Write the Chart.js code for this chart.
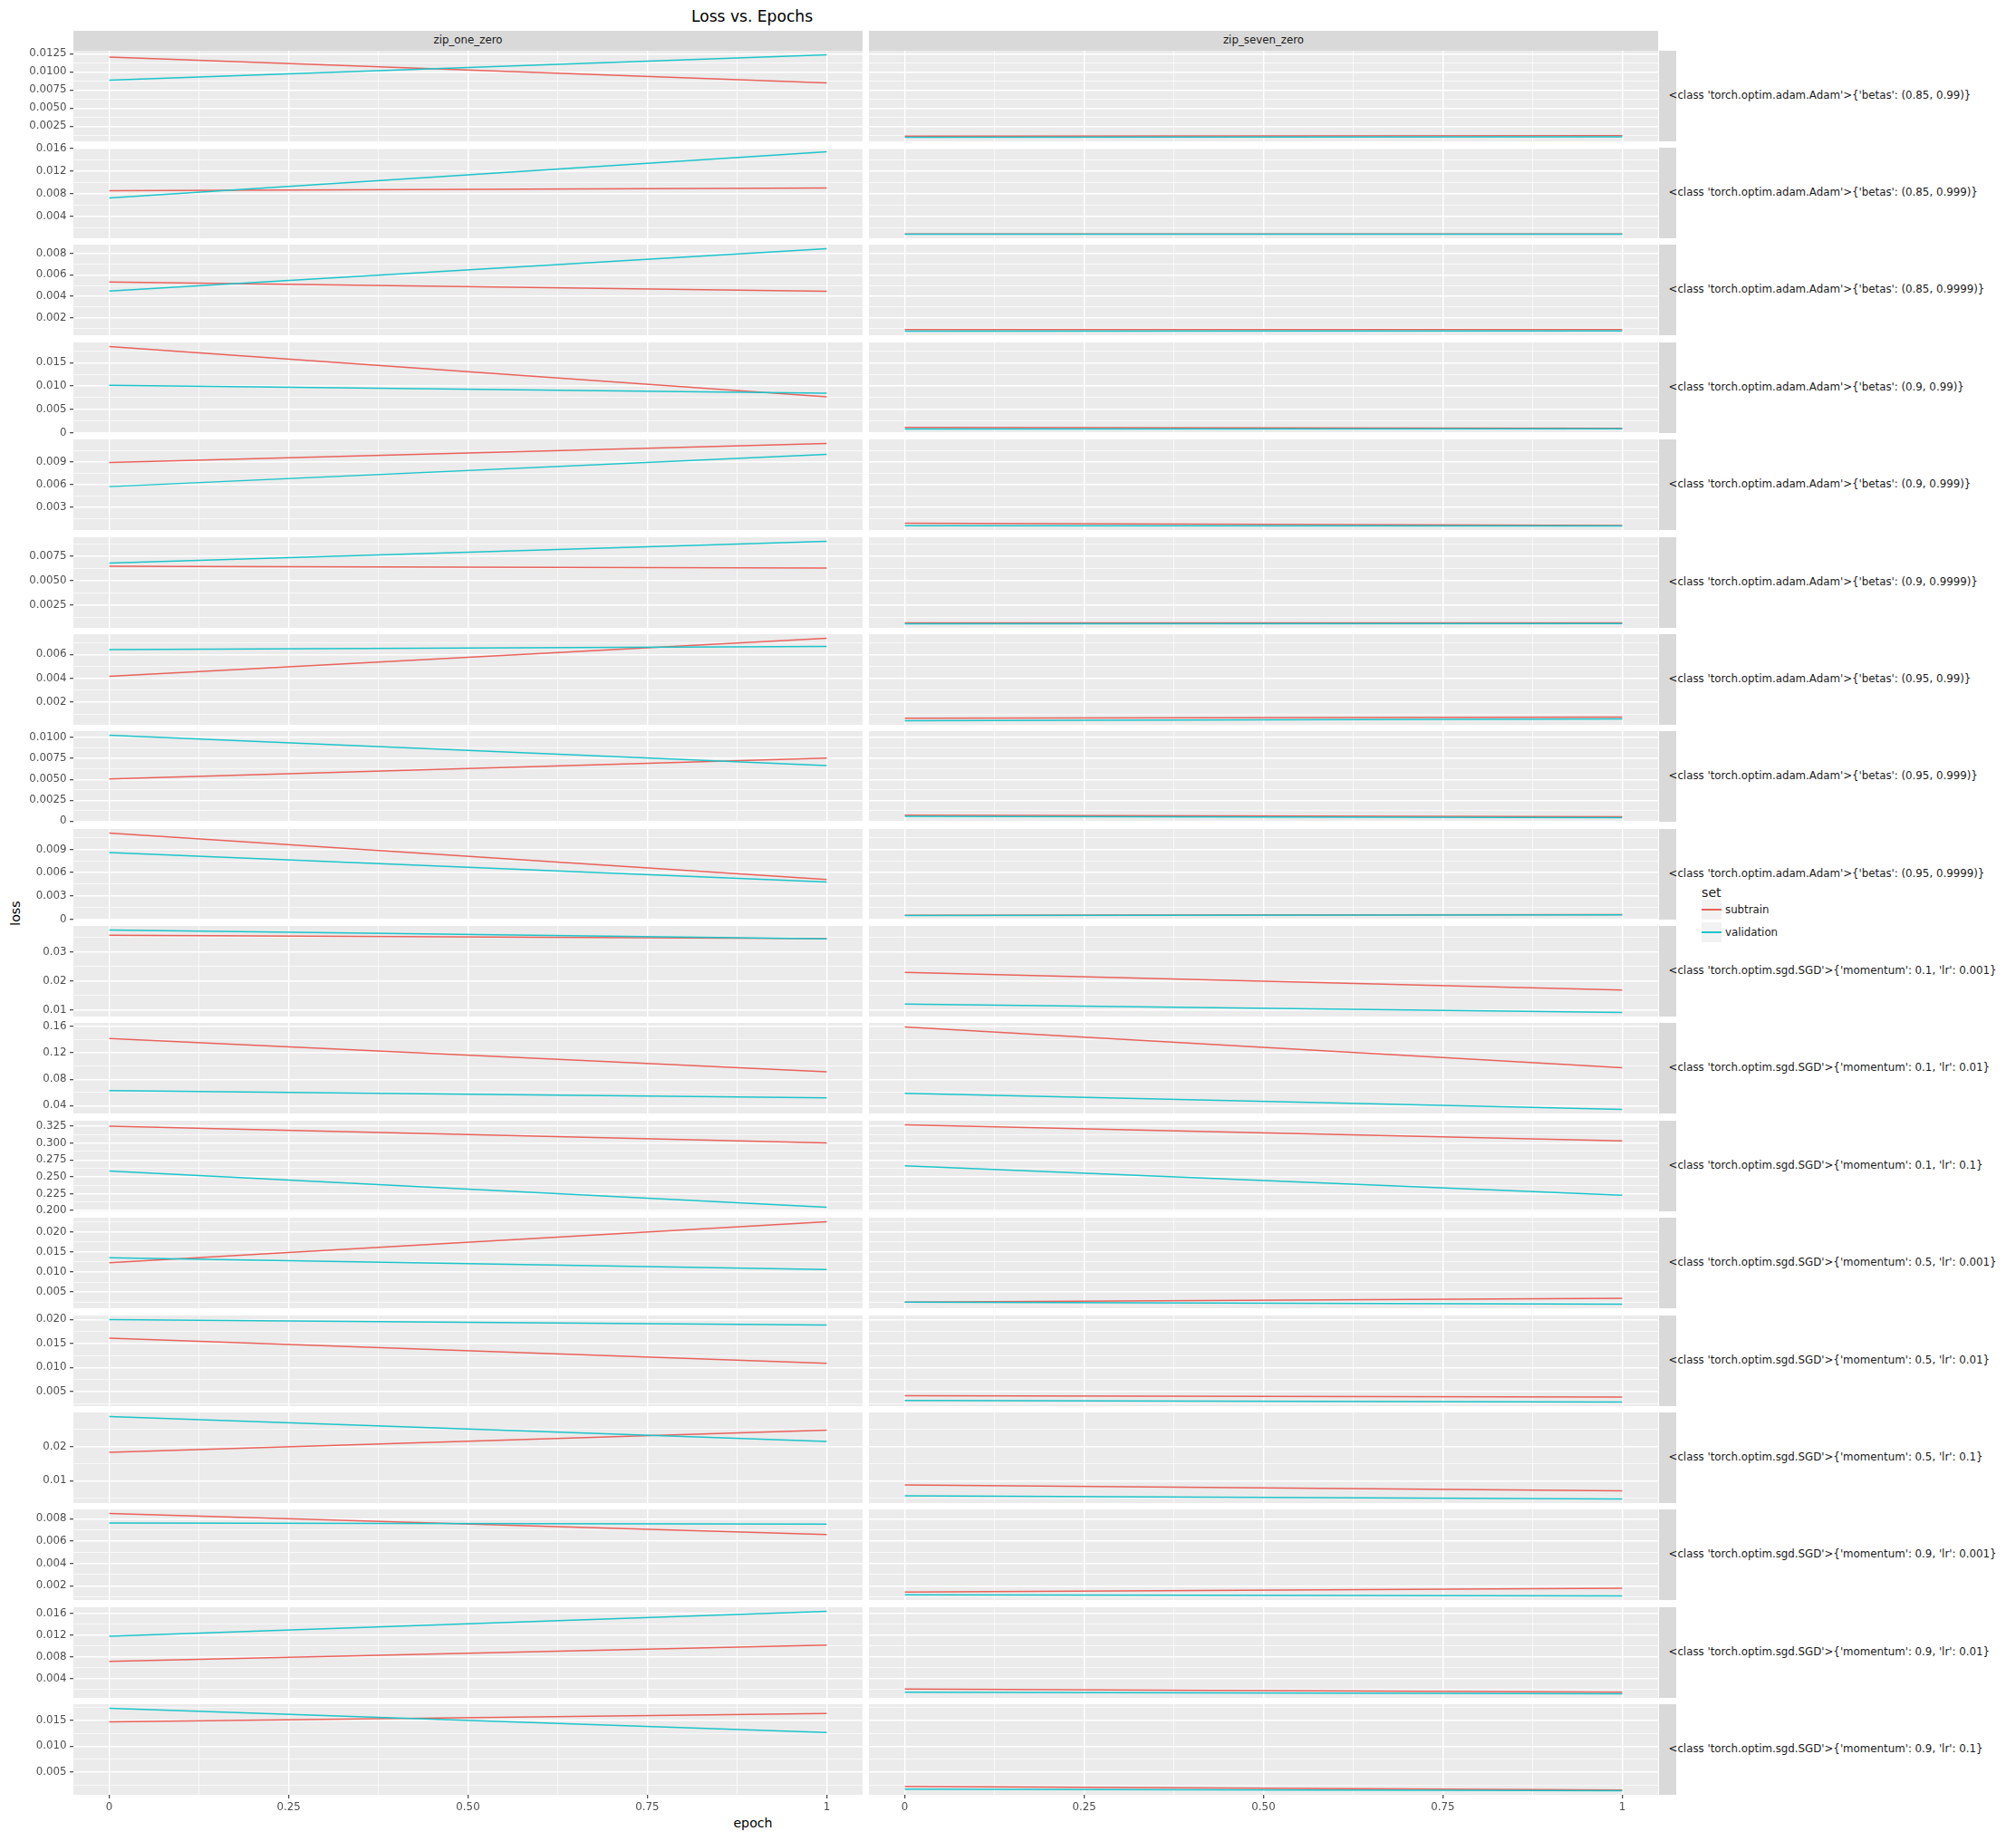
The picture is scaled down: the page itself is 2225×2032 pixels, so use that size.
<!DOCTYPE html>
<html><head><meta charset="utf-8">
<script src="https://cdn.jsdelivr.net/npm/chart.js@4.4.1/dist/chart.umd.min.js"></script>
<style>
html,body{margin:0;padding:0;background:#ffffff;}
body{width:2225px;height:2032px;position:relative;overflow:hidden;font-family:'DejaVu Sans',sans-serif;}
canvas{position:absolute;}
.t{position:absolute;white-space:nowrap;line-height:1;color:#1A1A1A;}
.box{position:absolute;}
</style></head><body>
<script>
// ---------------- data ----------------
const chartTitle = 'Loss vs. Epochs';
const xTitle = 'epoch';
const yTitle = 'loss';
const legendTitle = 'set';
const seriesNames = ['subtrain', 'validation'];
const columns = ['zip_one_zero', 'zip_seven_zero'];
const rowLabels = [
  "<class 'torch.optim.adam.Adam'>{'betas': (0.85, 0.99)}",
  "<class 'torch.optim.adam.Adam'>{'betas': (0.85, 0.999)}",
  "<class 'torch.optim.adam.Adam'>{'betas': (0.85, 0.9999)}",
  "<class 'torch.optim.adam.Adam'>{'betas': (0.9, 0.99)}",
  "<class 'torch.optim.adam.Adam'>{'betas': (0.9, 0.999)}",
  "<class 'torch.optim.adam.Adam'>{'betas': (0.9, 0.9999)}",
  "<class 'torch.optim.adam.Adam'>{'betas': (0.95, 0.99)}",
  "<class 'torch.optim.adam.Adam'>{'betas': (0.95, 0.999)}",
  "<class 'torch.optim.adam.Adam'>{'betas': (0.95, 0.9999)}",
  "<class 'torch.optim.sgd.SGD'>{'momentum': 0.1, 'lr': 0.001}",
  "<class 'torch.optim.sgd.SGD'>{'momentum': 0.1, 'lr': 0.01}",
  "<class 'torch.optim.sgd.SGD'>{'momentum': 0.1, 'lr': 0.1}",
  "<class 'torch.optim.sgd.SGD'>{'momentum': 0.5, 'lr': 0.001}",
  "<class 'torch.optim.sgd.SGD'>{'momentum': 0.5, 'lr': 0.01}",
  "<class 'torch.optim.sgd.SGD'>{'momentum': 0.5, 'lr': 0.1}",
  "<class 'torch.optim.sgd.SGD'>{'momentum': 0.9, 'lr': 0.001}",
  "<class 'torch.optim.sgd.SGD'>{'momentum': 0.9, 'lr': 0.01}",
  "<class 'torch.optim.sgd.SGD'>{'momentum': 0.9, 'lr': 0.1}"
];
const epochs = [0, 1];
// loss at epoch 0 and epoch 1, one pair per row
const oneZeroSubtrain = [
  [0.01204, 0.00846], [0.00848, 0.00896], [0.00532, 0.00445],
  [0.01845, 0.00769], [0.00895, 0.01147], [0.00646, 0.00628],
  [0.00417, 0.00734], [0.00506, 0.00754], [0.01110, 0.00512],
  [0.03563, 0.03449], [0.1418, 0.0914], [0.3250, 0.3001],
  [0.01231, 0.02247], [0.01607, 0.01088], [0.01832, 0.02482],
  [0.00846, 0.00657], [0.00717, 0.01017], [0.01470, 0.01632]
];
const oneZeroValidation = [
  [0.00884, 0.01234], [0.00720, 0.01538], [0.00448, 0.00842],
  [0.01017, 0.00847], [0.00576, 0.01003], [0.00678, 0.00902],
  [0.00640, 0.00666], [0.01027, 0.00665], [0.00859, 0.00480],
  [0.03738, 0.03440], [0.0627, 0.0518], [0.2585, 0.2050],
  [0.01352, 0.01061], [0.01994, 0.01881], [0.02876, 0.02147],
  [0.00762, 0.00752], [0.01178, 0.01638], [0.01731, 0.01262]
];
const sevenZeroSubtrain = [
  [0.00112, 0.00118], [0.00086, 0.00085], [0.00090, 0.00089],
  [0.00110, 0.00092], [0.00091, 0.00060], [0.00065, 0.00066],
  [0.00066, 0.00075], [0.00072, 0.00054], [0.00050, 0.00058],
  [0.02292, 0.01689], [0.1591, 0.0976], [0.3270, 0.3033],
  [0.00248, 0.00345], [0.00413, 0.00388], [0.00876, 0.00705],
  [0.00144, 0.00178], [0.00207, 0.00148], [0.00222, 0.00153]
];
const sevenZeroValidation = [
  [0.00097, 0.00104], [0.00082, 0.00081], [0.00075, 0.00077],
  [0.00078, 0.00080], [0.00058, 0.00056], [0.00056, 0.00057],
  [0.00046, 0.00060], [0.00058, 0.00043], [0.00047, 0.00055],
  [0.01210, 0.00929], [0.0586, 0.0344], [0.2662, 0.2227],
  [0.00248, 0.00201], [0.00315, 0.00283], [0.00560, 0.00468],
  [0.00119, 0.00109], [0.00148, 0.00120], [0.00170, 0.00139]
];
const yTickLabels = [
  ['0.0025', '0.0050', '0.0075', '0.0100', '0.0125'],
  ['0.004', '0.008', '0.012', '0.016'],
  ['0.002', '0.004', '0.006', '0.008'],
  ['0', '0.005', '0.010', '0.015'],
  ['0.003', '0.006', '0.009'],
  ['0.0025', '0.0050', '0.0075'],
  ['0.002', '0.004', '0.006'],
  ['0', '0.0025', '0.0050', '0.0075', '0.0100'],
  ['0', '0.003', '0.006', '0.009'],
  ['0.01', '0.02', '0.03'],
  ['0.04', '0.08', '0.12', '0.16'],
  ['0.200', '0.225', '0.250', '0.275', '0.300', '0.325'],
  ['0.005', '0.010', '0.015', '0.020'],
  ['0.005', '0.010', '0.015', '0.020'],
  ['0.01', '0.02'],
  ['0.002', '0.004', '0.006', '0.008'],
  ['0.004', '0.008', '0.012', '0.016'],
  ['0.005', '0.010', '0.015']
];
const xTickLabels = ['0', '0.25', '0.50', '0.75', '1'];

// ---------------- styles / layout ----------------
const FONT = "'DejaVu Sans', sans-serif";
const COLORS = ['#E9625B', '#1CC4C9'];
const PANEL_BG = '#EBEBEB', STRIP_BG = '#D9D9D9';
const TOP0 = 55.7, PITCH = 107.37, PANEL_H = 100;
const AXIS_W = 81, PAD = 9, XAXIS_H = 27;
const COL_GEOM = [{left: 0, width: 952, axis: AXIS_W}, {left: 959, width: 871, axis: 0}];
const TICK_FS = 11.8;

const panelBg = {
  id: 'panelBg',
  beforeDraw(chart) {
    const a = chart.chartArea, c = chart.ctx;
    c.save(); c.fillStyle = PANEL_BG;
    c.fillRect(a.left, a.top, a.right - a.left, a.bottom - a.top);
    c.restore();
  }
};

function addText(txt, x, top, size, opts) {
  const d = document.createElement('div');
  d.className = 't';
  d.textContent = txt;
  d.style.left = x + 'px';
  d.style.top = top + 'px';
  d.style.fontSize = size + 'px';
  if (opts && opts.center) d.style.transform = 'translateX(-50%)';
  if (opts && opts.color) d.style.color = opts.color;
  document.body.appendChild(d);
  return d;
}
function addBox(x, y, w, h, color) {
  const d = document.createElement('div');
  d.className = 'box';
  Object.assign(d.style, {left: x + 'px', top: y + 'px', width: w + 'px', height: h + 'px', background: color});
  document.body.appendChild(d);
  return d;
}

// title and axis titles
addText(chartTitle, 830, 24 - 0.846 * 17.1, 17.1, {center: true, color: '#000'});
addText(xTitle, 831, 2017.5 - 0.846 * 14.2, 14.2, {center: true, color: '#000'});
const yt = addText(yTitle, 17.2, 1008 - 7.1, 14.2, {color: '#000'});
yt.style.transform = 'translateX(-50%) rotate(-90deg)';

// column strips
columns.forEach((name, c) => {
  const g = COL_GEOM[c];
  const x0 = g.left + g.axis, w = g.width - g.axis;
  addBox(x0, 34, w, 21.7, STRIP_BG);
  addText(name, x0 + w / 2, 44.9 - TICK_FS / 2, TICK_FS, {center: true});
});

const rowTops = rowLabels.map((_, r) => Math.round(TOP0 + r * PITCH));

// row strips
rowLabels.forEach((lab, r) => {
  addBox(1831, rowTops[r], 19, PANEL_H, STRIP_BG);
  addText(lab, 1841.5, rowTops[r] + PANEL_H / 2 - TICK_FS / 2, TICK_FS);
});

// legend
addText(legendTitle, 1878, 990 - 0.846 * 14.2, 14.2);
seriesNames.forEach((s, i) => {
  const ky = 992.7 + i * 25.3;
  addBox(1878, ky, 22, 22, '#F2F2F2');
  addBox(1878, ky + 10, 22, 2, COLORS[i]);
  addText(s, 1904, ky + 16.3 - 0.846 * TICK_FS, TICK_FS);
});

// ---------------- charts ----------------
const xMajor = xTickLabels.map(parseFloat);
function xTicks() {
  const out = [];
  for (let i = 0; i < xMajor.length; i++) {
    out.push({value: xMajor[i], lbl: xTickLabels[i], minorFlag: false});
    if (i < xMajor.length - 1) out.push({value: (xMajor[i] + xMajor[i + 1]) / 2, lbl: '', minorFlag: true});
  }
  return out;
}

function yTicks(r, ymin, ymax) {
  const labels = yTickLabels[r];
  const vals = labels.map(parseFloat);
  const step = vals[1] - vals[0];
  const eps = (ymax - ymin) * 1e-6;
  const out = [];
  vals.forEach((v, i) => {
    if (v >= ymin - eps && v <= ymax + eps) out.push({value: v, lbl: labels[i], minorFlag: false});
    const m = v - step / 2;
    if (m >= ymin && m <= ymax) out.push({value: m, lbl: '', minorFlag: true});
  });
  const last = vals[vals.length - 1] + step / 2;
  if (last >= ymin && last <= ymax) out.push({value: last, lbl: '', minorFlag: true});
  out.sort((a, b) => a.value - b.value);
  return out;
}

const isMinor = (ctx) => ctx.tick && ctx.tick.minorFlag;
const nRows = rowLabels.length;
const series = [[oneZeroSubtrain, oneZeroValidation], [sevenZeroSubtrain, sevenZeroValidation]];

for (let r = 0; r < nRows; r++) {
  const all = [oneZeroSubtrain[r], oneZeroValidation[r], sevenZeroSubtrain[r], sevenZeroValidation[r]].flat();
  const lo = Math.min(...all), hi = Math.max(...all);
  const span = hi - lo;
  const ymin = lo - 0.05 * span, ymax = hi + 0.05 * span;
  const isBottom = r === nRows - 1;

  for (let c = 0; c < 2; c++) {
    const g = COL_GEOM[c];
    const showY = c === 0;
    const cv = document.createElement('canvas');
    const h = PAD + PANEL_H + (isBottom ? XAXIS_H : PAD);
    cv.width = g.width; cv.height = h;
    cv.style.left = g.left + 'px';
    cv.style.top = (rowTops[r] - PAD) + 'px';
    cv.style.width = g.width + 'px'; cv.style.height = h + 'px';
    document.body.appendChild(cv);

    // validation first so it is drawn on top (as in the reference)
    const datasets = [1, 0].map(si => ({
      label: seriesNames[si],
      data: epochs.map((e, k) => ({x: e, y: series[c][si][r][k]})),
      borderColor: COLORS[si],
      borderWidth: 1.5,
      pointRadius: 0,
      fill: false,
      tension: 0
    }));

    new Chart(cv, {
      type: 'line',
      data: {datasets},
      plugins: [panelBg],
      options: {
        responsive: false,
        animation: false,
        events: [],
        layout: {padding: {top: PAD, bottom: isBottom ? 0 : PAD, left: 0, right: 0}},
        plugins: {legend: {display: false}, tooltip: {enabled: false}},
        scales: {
          x: {
            type: 'linear', min: -0.05, max: 1.05,
            border: {display: false},
            grid: {
              color: '#FFFFFF',
              lineWidth: ctx => isMinor(ctx) ? 0.7 : 1.4,
              drawTicks: isBottom, tickLength: 4,
              tickColor: ctx => isMinor(ctx) ? 'rgba(0,0,0,0)' : '#333333',
              tickWidth: 1.1
            },
            ticks: {
              display: isBottom, autoSkip: false, maxRotation: 0, minRotation: 0, padding: 3,
              color: '#4D4D4D', font: {family: FONT, size: TICK_FS},
              callback: (v, i, ticks) => ticks[i].lbl || ''
            },
            afterBuildTicks: s => { s.ticks = xTicks(); },
            afterFit: s => { s.height = isBottom ? XAXIS_H : 0; s.paddingLeft = 0; s.paddingRight = 0; }
          },
          y: {
            type: 'linear', min: ymin, max: ymax,
            border: {display: false},
            grid: {
              color: '#FFFFFF',
              lineWidth: ctx => isMinor(ctx) ? 0.7 : 1.4,
              drawTicks: showY, tickLength: 4,
              tickColor: ctx => isMinor(ctx) ? 'rgba(0,0,0,0)' : '#333333',
              tickWidth: 1.1
            },
            ticks: {
              display: showY, autoSkip: false, padding: 3.5,
              color: '#4D4D4D', font: {family: FONT, size: TICK_FS},
              callback: (v, i, ticks) => ticks[i].lbl || ''
            },
            afterBuildTicks: s => { s.ticks = yTicks(r, ymin, ymax); },
            afterFit: s => { s.width = g.axis; s.paddingTop = 0; s.paddingBottom = 0; }
          }
        }
      }
    });
  }
}
</script>
</body></html>
